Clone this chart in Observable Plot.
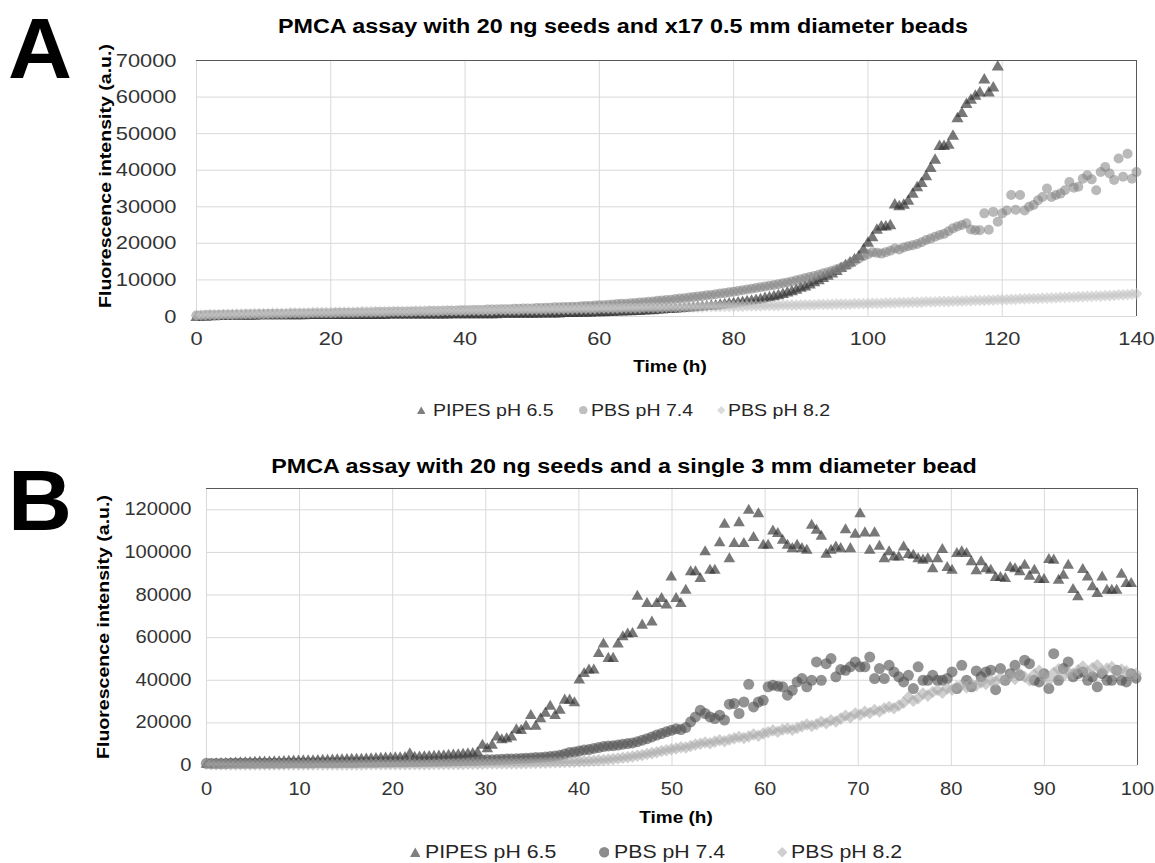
<!DOCTYPE html>
<html><head><meta charset="utf-8">
<script src="https://cdn.jsdelivr.net/npm/d3@7"></script>
<script src="https://cdn.jsdelivr.net/npm/@observablehq/plot@0.6"></script>
<style>
body{margin:0;background:#fff;}
#root{position:relative;width:1155px;height:863px;overflow:hidden;background:#fff;font-family:"Liberation Sans",Arial,sans-serif;}
#root svg.chart{position:absolute;left:0;}
.t{position:absolute;white-space:nowrap;line-height:1;}
</style></head><body><div id="root"></div>
<script>
// ---------- texts ----------
const TITLE_A = "PMCA assay with 20 ng seeds and x17 0.5 mm diameter beads";
const TITLE_B = "PMCA assay with 20 ng seeds and a single 3 mm diameter bead";
const Y_LABEL = "Fluorescence intensity (a.u.)";
const X_LABEL = "Time (h)";
const SERIES = ["PIPES pH 6.5", "PBS pH 7.4", "PBS pH 8.2"];

// ---------- axes ----------
const X_TICKS_A = [0, 20, 40, 60, 80, 100, 120, 140];
const Y_TICKS_A = [0, 10000, 20000, 30000, 40000, 50000, 60000, 70000];
const X_TICKS_B = [0, 10, 20, 30, 40, 50, 60, 70, 80, 90, 100];
const Y_TICKS_B = [0, 20000, 40000, 60000, 80000, 100000, 120000];

// sampling interval (h) of the readings
const STEP_A = 2 / 3;
const STEP_B = 0.52;

// ---------- Panel A values (thousands of a.u.) ----------
const PIPES_A = [
-0.3,-0.2,-0.2,-0.1,-0.1,0,0,0,0.1,0.1,0.1,0.1,0.1,0.1,0.2,
0.2,0.2,0.2,0.2,0.2,0.2,0.2,0.2,0.2,0.2,0.3,0.3,0.3,0.3,0.3,
0.3,0.3,0.3,0.3,0.3,0.3,0.3,0.3,0.3,0.3,0.3,0.3,0.3,0.4,0.4,
0.4,0.4,0.4,0.4,0.4,0.4,0.4,0.4,0.4,0.4,0.4,0.4,0.5,0.5,0.5,
0.5,0.5,0.5,0.5,0.5,0.5,0.5,0.5,0.6,0.6,0.6,0.6,0.6,0.6,0.6,
0.6,0.6,0.7,0.7,0.7,0.7,0.7,0.8,0.8,0.8,0.8,0.9,0.9,0.9,1.0,
1.0,1.0,1.1,1.1,1.2,1.2,1.3,1.3,1.4,1.4,1.5,1.6,1.6,1.7,1.8,
1.9,1.9,2.0,2.1,2.2,2.3,2.4,2.5,2.6,2.7,2.8,2.9,3.1,3.2,3.4,
3.5,3.7,3.8,4.0,4.2,4.4,4.6,4.9,5.1,5.4,5.7,6.0,6.4,6.8,7.2,
7.7,8.1,8.6,9.2,9.8,10.4,11.0,11.6,12.3,13.1,13.9,14.6,15.5,16.4,18.2,
20.0,21.5,23.6,24.5,24.5,24.8,30.5,30.0,30.4,31.5,33.4,35.2,36.4,38.2,40.5,
42.7,46.5,46.5,46.8,49.3,54.1,55.5,58.0,59.1,60.2,61.1,64.7,61.1,62.5,68.2];

const PBS74_A = [
0.3,0.3,0.4,0.4,0.4,0.4,0.5,0.5,0.5,0.5,0.5,0.6,0.6,0.6,0.6,
0.6,0.7,0.7,0.7,0.7,0.7,0.8,0.8,0.8,0.8,0.8,0.9,0.9,0.9,0.9,
0.9,1.0,1.0,1.0,1.0,1.0,1.1,1.1,1.1,1.1,1.2,1.2,1.2,1.2,1.3,
1.3,1.3,1.3,1.4,1.4,1.4,1.4,1.5,1.5,1.5,1.5,1.6,1.6,1.6,1.7,
1.7,1.7,1.8,1.8,1.8,1.9,1.9,1.9,2.0,2.0,2.0,2.1,2.1,2.2,2.2,
2.2,2.3,2.3,2.4,2.4,2.5,2.5,2.6,2.6,2.7,2.7,2.8,2.9,2.9,3.0,
3.1,3.1,3.2,3.3,3.4,3.5,3.5,3.6,3.7,3.8,3.9,4.0,4.1,4.3,4.4,
4.5,4.6,4.8,4.9,5.0,5.2,5.3,5.5,5.6,5.8,5.9,6.1,6.3,6.4,6.6,
6.8,7.0,7.2,7.4,7.6,7.8,8.0,8.2,8.4,8.6,8.8,9.1,9.3,9.6,9.9,
10.2,10.5,10.8,11.1,11.4,11.8,12.1,12.5,12.9,13.3,13.9,14.5,15.2,15.9,16.5,
17.0,17.6,17.4,17.2,17.6,18.0,18.6,18.3,18.9,19.2,19.5,19.8,20.3,20.9,21.3,
21.8,22.3,22.6,23.3,24.1,24.6,25.0,25.5,23.8,23.6,23.6,28.2,23.7,28.6,25.9,
28.2,29.0,33.2,29.2,33.2,29.0,30.0,30.5,31.8,32.7,35.0,32.7,33.2,33.6,34.5,
36.8,35.2,35.5,37.7,38.6,37.5,34.5,39.5,40.9,39.1,37.3,43.2,38.2,44.5,37.7,39.5];

const PBS82_A = [
0.3,0.4,0.4,0.5,0.5,0.5,0.6,0.6,0.6,0.7,0.7,0.7,0.7,0.8,0.8,
0.8,0.8,0.9,0.9,0.9,0.9,1.0,1.0,1.0,1.0,1.0,1.1,1.1,1.1,1.1,
1.1,1.1,1.2,1.2,1.2,1.2,1.2,1.3,1.3,1.3,1.3,1.3,1.3,1.4,1.4,
1.4,1.4,1.4,1.4,1.5,1.5,1.5,1.5,1.5,1.5,1.6,1.6,1.6,1.6,1.6,
1.6,1.7,1.7,1.7,1.7,1.7,1.7,1.8,1.8,1.8,1.8,1.8,1.8,1.9,1.9,
1.9,1.9,1.9,1.9,2.0,2.0,2.0,2.0,2.0,2.0,2.1,2.1,2.1,2.1,2.1,
2.2,2.2,2.2,2.2,2.2,2.3,2.3,2.3,2.3,2.3,2.4,2.4,2.4,2.4,2.4,
2.5,2.5,2.5,2.5,2.6,2.6,2.6,2.6,2.6,2.7,2.7,2.7,2.7,2.8,2.8,
2.8,2.8,2.8,2.9,2.9,2.9,2.9,3.0,3.0,3.0,3.0,3.1,3.1,3.1,3.1,
3.2,3.2,3.2,3.2,3.3,3.3,3.3,3.3,3.4,3.4,3.4,3.4,3.5,3.5,3.5,
3.5,3.6,3.6,3.6,3.7,3.7,3.7,3.8,3.8,3.8,3.9,3.9,3.9,4.0,4.0,
4.0,4.1,4.1,4.1,4.2,4.2,4.2,4.3,4.3,4.4,4.4,4.4,4.5,4.5,4.6,
4.6,4.6,4.7,4.7,4.8,4.8,4.9,4.9,4.9,5.0,5.0,5.1,5.1,5.2,5.2,
5.3,5.3,5.4,5.4,5.5,5.5,5.6,5.6,5.7,5.7,5.8,5.9,5.9,6.0,6.1,6.2];

// ---------- Panel B values (thousands of a.u.) ----------
const PIPES_B = [
0.5,0.6,0.7,0.8,0.9,1.0,1.1,1.2,1.2,1.3,1.4,1.5,1.5,1.6,1.7,1.7,1.8,1.9,2.0,2.0,
2.1,2.2,2.2,2.3,2.4,2.4,2.5,2.6,2.6,2.7,2.8,2.9,2.9,3.0,3.1,3.2,3.3,3.4,3.4,3.5,
3.6,3.7,5.4,3.8,3.9,4.0,4.1,4.2,4.4,4.5,4.7,4.8,5.0,5.2,5.4,5.6,5.9,
9.4,7.8,9.4,13.3,12.0,12.5,13.3,16.7,16.4,18.3,23.4,18.3,21.9,24.5,27.7,23.4,
25.9,30.6,30.6,29.4,40.0,43.1,44.7,44.7,52.5,56.9,
50.2,50.2,56.9,60.3,61.6,61.9,79.4,65.8,75.9,67.3,
75.9,78.3,75.2,88.4,78.3,75.9,82.2,90.8,90.8,87.7,
100.2,91.6,91.6,104.5,113.1,97.0,104.1,113.9,104.1,119.7,
106.9,118.1,103.3,103.3,110.0,108.8,105.6,103.3,101.7,103.3,
101.7,100.9,112.7,110.3,107.5,99.1,100.9,102.5,101.7,110.6,
101.7,108.4,118.1,109.1,100.9,109.1,102.8,96.9,100.2,97.8,
97.8,102.5,98.9,98.6,97.0,96.3,97.0,92.3,97.0,101.3,
92.8,91.6,99.4,100.2,99.4,95.5,91.3,95.5,92.3,91.6,
88.1,88.1,87.7,92.8,92.3,90.8,93.9,88.8,91.6,87.2,
87.2,96.6,96.3,86.9,89.2,93.9,82.5,79.1,91.9,88.4,
83.8,80.6,88.4,82.2,82.2,82.2,89.7,85.3,85.3];

const PBS74_B = [
1.0,0.9,0.9,0.9,0.9,1.0,1.0,1.0,1.0,1.0,1.0,1.1,1.1,1.1,1.1,1.1,1.1,1.2,1.2,1.2,
1.2,1.2,1.2,1.3,1.3,1.3,1.3,1.3,1.4,1.4,1.4,1.4,1.5,1.5,1.5,1.5,1.6,1.6,1.6,1.7,
1.7,1.7,1.8,1.8,1.8,1.9,1.9,2.0,2.0,2.1,2.1,2.2,2.2,2.3,2.4,2.4,2.5,2.6,2.7,2.7,
2.8,2.9,3.0,3.1,3.2,3.3,3.4,3.5,3.7,3.8,4.0,4.2,4.4,
4.8,5.4,6.1,6.3,6.8,7.3,7.5,8.0,8.4,8.9,9.2,9.3,9.6,10.0,10.3,10.6,11.2,11.9,12.6,13.4,14.3,15.0,15.8,16.5,17.2,16.9,17.8,20.5,
22.8,25.9,24.4,22.8,22.0,23.6,21.3,28.8,29.1,24.4,
29.8,38.1,27.5,29.8,30.6,36.9,37.7,37.2,36.9,33.0,
35.3,39.2,40.8,36.9,40.0,48.6,40.0,47.8,50.2,41.6,
45.0,44.7,46.3,48.6,46.3,46.3,50.9,40.8,45.5,40.8,
47.0,43.9,41.6,39.2,42.3,36.1,46.3,40.0,40.0,42.3,
40.0,40.0,40.8,43.9,36.1,47.0,40.0,36.9,44.4,41.6,
43.9,44.7,35.6,45.5,40.0,43.1,47.0,42.3,49.4,47.8,
40.0,39.2,43.1,36.1,52.5,40.0,45.5,48.6,41.6,43.1,
43.9,40.0,41.6,36.9,43.1,40.0,40.0,44.7,40.0,39.2,
43.1,41.0];

const PBS82_B = [
0.8,0.6,0.5,0.5,0.5,0.5,0.5,0.5,0.5,0.5,0.5,0.5,0.5,0.5,0.5,0.5,0.5,0.5,0.5,0.5,
0.5,0.5,0.5,0.5,0.5,0.5,0.5,0.5,0.5,0.5,0.5,0.5,0.5,0.6,0.6,0.6,0.6,0.6,0.6,0.6,
0.6,0.6,0.6,0.6,0.6,0.6,0.6,0.7,0.7,0.7,0.7,0.7,0.7,0.7,0.8,0.8,0.8,0.8,0.9,0.9,
0.9,0.9,1.0,1.0,1.0,1.1,1.1,1.2,1.2,1.3,1.3,1.4,1.5,1.5,1.6,1.7,1.8,1.9,2.0,2.1,
2.2,2.4,2.6,2.8,3.0,3.3,3.6,3.9,4.2,4.6,4.9,5.4,5.8,6.2,6.8,7.2,7.6,8.0,8.6,8.4,
9.2,9.8,10.2,10.8,10.4,11.2,11.8,11.4,12.2,12.8,13.4,12.9,13.6,14.5,14.0,15.0,15.6,16.4,15.8,16.9,
17.3,16.8,17.6,18.4,19.2,18.6,19.4,20.5,19.8,21.2,20.6,22.0,23.3,22.6,24.4,23.8,25.2,24.6,26.0,25.4,
26.8,27.5,26.9,28.2,29.5,32.0,30.4,31.6,33.8,32.8,34.5,35.4,34.2,36.2,35.6,36.9,37.8,36.6,38.4,37.5,
39.0,38.2,40.0,39.4,41.2,40.0,42.0,40.6,43.2,41.5,40.0,42.8,44.5,41.8,40.0,43.5,45.2,42.0,44.0,43.0,
44.7,46.5,43.5,45.8,47.0,44.2,45.5,46.2,43.8,45.0,44.2,42.5,43.0];

// ---------- helpers ----------
const STRETCH = 1.15;
const FONT = "Liberation Sans, Arial, sans-serif";
const root = document.getElementById("root");
const rows = (vals, step) => vals.map((v, i) => ({t: i * step, v: v * 1000}));

// rhombus symbol (square rotated 45 degrees)
const rhombus = {draw(ctx, size) { const r = Math.sqrt(size / 2); ctx.moveTo(0, -r); ctx.lineTo(r, 0); ctx.lineTo(0, r); ctx.lineTo(-r, 0); ctx.closePath(); }};

function stretchTexts(svg, s) {
  svg.querySelectorAll("text").forEach(t => {
    const x = +(t.getAttribute("x") || 0);
    const tr = t.getAttribute("transform") || "";
    t.setAttribute("transform", `${tr} translate(${x},0) scale(${s},1) translate(${-x},0)`);
  });
}

function addText(txt, {x, base, size, weight = 400, anchor = "middle", color = "#000", sx = STRETCH}) {
  const d = document.createElement("div");
  d.className = "t"; d.textContent = txt;
  d.style.fontSize = size + "px"; d.style.fontWeight = weight; d.style.color = color;
  d.style.left = x + "px"; d.style.top = (base - 0.8465 * size) + "px";
  if (anchor === "middle") { d.style.transformOrigin = "50% 50%"; d.style.transform = `translateX(-50%) scaleX(${sx})`; }
  else { d.style.transformOrigin = "0 50%"; d.style.transform = `scaleX(${sx})`; }
  root.appendChild(d);
}

function addVText(txt, {cx, cy, size, stretch}) {
  const d = document.createElement("div");
  d.className = "t"; d.textContent = txt;
  d.style.fontSize = size + "px"; d.style.fontWeight = 700; d.style.color = "#000";
  d.style.left = cx + "px"; d.style.top = cy + "px";
  d.style.transformOrigin = "50% 50%";
  d.style.transform = `translate(-50%,-50%) rotate(-90deg) scaleX(${stretch})`;
  root.appendChild(d);
}

function addSymbol(kind, cx, cy, s, color) {
  const ns = "http://www.w3.org/2000/svg";
  const svg = document.createElementNS(ns, "svg");
  svg.setAttribute("width", s); svg.setAttribute("height", s);
  svg.style.position = "absolute"; svg.style.left = (cx - s / 2) + "px"; svg.style.top = (cy - s / 2) + "px";
  let el;
  if (kind === "triangle") { el = document.createElementNS(ns, "polygon"); el.setAttribute("points", `${s/2},0.5 ${s},${s-0.5} 0,${s-0.5}`); }
  else if (kind === "circle") { el = document.createElementNS(ns, "circle"); el.setAttribute("cx", s/2); el.setAttribute("cy", s/2); el.setAttribute("r", s/2); }
  else { el = document.createElementNS(ns, "polygon"); el.setAttribute("points", `${s/2},0 ${s},${s/2} ${s/2},${s} 0,${s/2}`); }
  el.setAttribute("fill", color);
  svg.appendChild(el); root.appendChild(svg);
}

// ---------- Panel A ----------
const chartA = Plot.plot({
  width: 1155, height: 386,
  marginTop: 60, marginBottom: 70, marginLeft: 196, marginRight: 19,
  style: {fontFamily: FONT, fontSize: "19px", color: "#333", background: "transparent", overflow: "visible"},
  x: {domain: [0, 140], ticks: X_TICKS_A, tickSize: 0, tickPadding: 15, label: null, tickFormat: d => String(d)},
  y: {domain: [0, 70000], ticks: Y_TICKS_A, tickSize: 0, tickPadding: 20, label: null, tickFormat: d => String(d)},
  marks: [
    Plot.ruleX(X_TICKS_A, {stroke: "#d9d9d9"}),
    Plot.ruleY(Y_TICKS_A, {stroke: "#d9d9d9"}),
    Plot.ruleY([70000], {stroke: "#595959"}),
    Plot.ruleX([140], {stroke: "#595959"}),
    Plot.dot(rows(PIPES_A, STEP_A), {x: "t", y: "v", symbol: "triangle", r: 4.5, fill: "#303030", fillOpacity: 0.65}),
    Plot.dot(rows(PBS74_A, STEP_A), {x: "t", y: "v", r: 5, fill: "#808080", fillOpacity: 0.55}),
    Plot.dot(rows(PBS82_A, STEP_A), {x: "t", y: "v", symbol: rhombus, r: 4.7, fill: "#c4c4c4", fillOpacity: 0.6})
  ]
});
chartA.classList.add("chart"); chartA.style.top = "0px";
stretchTexts(chartA, STRETCH);
root.appendChild(chartA);

// ---------- Panel B ----------
const chartB = Plot.plot({
  width: 1155, height: 360,
  marginTop: 48, marginBottom: 35, marginLeft: 206, marginRight: 18,
  style: {fontFamily: FONT, fontSize: "17.5px", color: "#333", background: "transparent", overflow: "visible"},
  x: {domain: [0, 100], ticks: X_TICKS_B, tickSize: 0, tickPadding: 17, label: null, tickFormat: d => String(d)},
  y: {domain: [0, 130000], ticks: Y_TICKS_B, tickSize: 0, tickPadding: 15, label: null, tickFormat: d => String(d)},
  marks: [
    Plot.ruleX(X_TICKS_B, {stroke: "#d9d9d9"}),
    Plot.ruleY(Y_TICKS_B, {stroke: "#d9d9d9"}),
    Plot.ruleY([130000], {stroke: "#595959"}),
    Plot.ruleX([100], {stroke: "#595959"}),
    Plot.dot(rows(PIPES_B, STEP_B), {x: "t", y: "v", symbol: "triangle", r: 4.3, fill: "#303030", fillOpacity: 0.65}),
    Plot.dot(rows(PBS74_B, STEP_B), {x: "t", y: "v", r: 5.5, fill: "#505050", fillOpacity: 0.62}),
    Plot.dot(rows(PBS82_B, STEP_B), {x: "t", y: "v", symbol: rhombus, r: 5, fill: "#a8a8a8", fillOpacity: 0.55})
  ]
});
chartB.classList.add("chart"); chartB.style.top = "440px";
stretchTexts(chartB, STRETCH);
root.appendChild(chartB);

// ---------- titles, labels, legends ----------
addText("A", {x: 8, base: 78, size: 86, weight: 700, anchor: "start", sx: 1.03});
addText("B", {x: 8, base: 530, size: 86, weight: 700, anchor: "start", sx: 1.03});
addText(TITLE_A, {x: 623, base: 32.7, size: 20.3, weight: 700});
addText(TITLE_B, {x: 624, base: 473.3, size: 20.3, weight: 700});
addVText(Y_LABEL, {cx: 105, cy: 176, size: 17, stretch: 1.15});
addVText(Y_LABEL, {cx: 103, cy: 627, size: 17, stretch: 1.15});
addText(X_LABEL, {x: 670, base: 371.5, size: 16.5, weight: 700});
addText(X_LABEL, {x: 675.5, base: 823, size: 16.5, weight: 700});

const LEG_A = [
  {kind: "triangle", cx: 421, tx: 433, color: "#7f7f7f"},
  {kind: "circle", cx: 583.5, tx: 590.5, color: "#bfbfbf"},
  {kind: "diamond", cx: 721, tx: 728, color: "#dcdcdc"}
];
LEG_A.forEach((d, i) => {
  addSymbol(d.kind, d.cx, 410, 8.5, d.color);
  addText(SERIES[i], {x: d.tx, base: 416, size: 17, anchor: "start", color: "#262626"});
});
const LEG_B = [
  {kind: "triangle", cx: 415, tx: 425, color: "#7f7f7f"},
  {kind: "circle", cx: 604, tx: 614, color: "#8c8c8c"},
  {kind: "diamond", cx: 782, tx: 791, color: "#cfcfcf"}
];
LEG_B.forEach((d, i) => {
  addSymbol(d.kind, d.cx, 852.5, 10.5, d.color);
  addText(SERIES[i], {x: d.tx, base: 859, size: 18.5, anchor: "start", color: "#262626"});
});
</script></body></html>
